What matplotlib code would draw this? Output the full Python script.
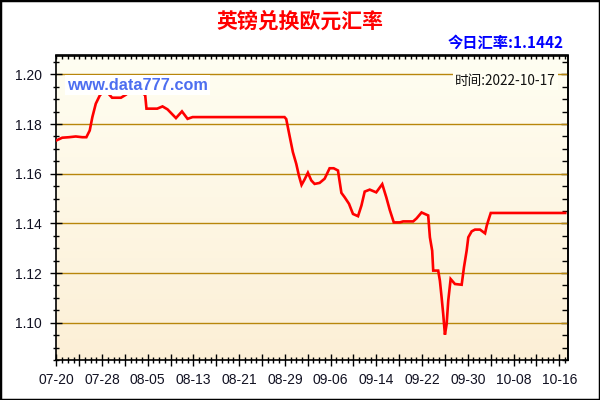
import numpy as np
import matplotlib
matplotlib.use("Agg")
import matplotlib.pyplot as plt
from matplotlib.ticker import FixedLocator, MultipleLocator, NullFormatter, FixedFormatter
from matplotlib.patches import Rectangle

# ---- data (days since 2022-07-20, GBP->EUR rate) ----
day_offset = [0, 1.03, 2.21, 3.39, 4.54, 5.25, 5.84, 6.3, 6.9, 7.6, 8.2, 8.9, 9.75, 11.3,
              12.16, 13.1, 14.5, 15.55, 15.77, 17.65, 18.58, 19.46, 20.93, 21.98, 22.96,
              23.84, 39.93, 40.23, 40.8, 41.39, 41.98, 42.44, 42.91, 43.44, 44.02, 44.61,
              45.19, 46.07, 46.95, 47.82, 48.53, 49.28, 49.88, 50.46, 51.21, 51.91, 52.79,
              53.39, 53.96, 54.84, 55.98, 57.03, 57.74, 58.35, 59.05, 60.11, 60.68, 62.44,
              63.03, 63.91, 64.49, 65.07, 65.37, 65.77, 65.95, 66.82, 67.12, 67.42, 67.7,
              68.0, 68.3, 68.58, 69.0, 69.75, 70.93, 71.33, 71.8, 72.09, 72.68, 73.26,
              74.14, 75.02, 75.32, 75.6, 76.02, 89.05]
rate = [1.1734, 1.1745, 1.1747, 1.1750, 1.1747, 1.1747, 1.1774, 1.1828, 1.1882, 1.1915,
        1.1930, 1.1928, 1.1906, 1.1906, 1.1918, 1.1935, 1.1940, 1.1915, 1.1862, 1.1862,
        1.1871, 1.1859, 1.1824, 1.1851, 1.1821, 1.1828, 1.1828, 1.1820, 1.1754, 1.1687,
        1.1640, 1.1593, 1.1555, 1.1577, 1.1604, 1.1573, 1.1559, 1.1563, 1.1580, 1.1622,
        1.1622, 1.1613, 1.1523, 1.1505, 1.1479, 1.1438, 1.1429, 1.1472, 1.1528, 1.1536,
        1.1525, 1.1558, 1.1505, 1.1454, 1.1404, 1.1404, 1.1408, 1.1408, 1.1420, 1.1444,
        1.1438, 1.1432, 1.1344, 1.1290, 1.1210, 1.1210, 1.1169, 1.1102, 1.1035, 1.0952,
        1.0995, 1.1089, 1.1176, 1.1156, 1.1153, 1.1223, 1.1290, 1.1344, 1.1368, 1.1375,
        1.1375, 1.1360, 1.1391, 1.1412, 1.1442, 1.1442]
tick_days = [0, 8, 16, 24, 32, 40, 48, 56, 64, 72, 80, 88]
tick_labels = ["07-20", "07-28", "08-05", "08-13", "08-21", "08-29",
               "09-06", "09-14", "09-22", "09-30", "10-08", "10-16"]
y_ticks = [1.10, 1.12, 1.14, 1.16, 1.18, 1.20]
title = "英镑兑换欧元汇率"
today_label = "今日汇率:1.1442"
time_label = "时间:2022-10-17"
watermark = "www.data777.com"

plt.rcParams['font.family'] = ['Liberation Sans', 'Noto Sans CJK SC', 'DejaVu Sans']

W, H = 600, 400
fig = plt.figure(figsize=(6, 4), dpi=100, facecolor='white')
L, R, T, B = 55.5, 567.5, 55.5, 360
ax = fig.add_axes([L / W, 1 - B / H, (R - L) / W, (B - T) / H])

# gradient background
top_c = np.array([255, 254, 242]) / 255
bot_c = np.array([252, 239, 214]) / 255
t = np.linspace(0, 1, 256)[:, None]
grad = (top_c[None, :] * (1 - t) + bot_c[None, :] * t)[:, None, :]
ax.imshow(grad, extent=[0, 1, 0, 1], transform=ax.transAxes, aspect='auto',
          zorder=0, interpolation='bilinear')

for yv in y_ticks:
    ax.axhline(yv, color='#B8860B', lw=1.0, zorder=1)

ax.plot(day_offset, rate, color='#FF0000', lw=1.9, zorder=3, solid_joinstyle='miter')

ax.set_xlim(-0.15, 89.45)
ax.set_ylim(1.085, 1.2076)

# axes ticks
ax.xaxis.set_major_locator(FixedLocator(np.arange(0, 90, 4)))
ax.xaxis.set_minor_locator(MultipleLocator(1))
lab_map = {d: l for d, l in zip(tick_days, tick_labels)}
ax.xaxis.set_major_formatter(FixedFormatter([lab_map.get(d, "") for d in range(0, 90, 4)]))
ax.yaxis.set_major_locator(FixedLocator(y_ticks))
ax.yaxis.set_minor_locator(MultipleLocator(0.005))
ax.yaxis.set_major_formatter(FixedFormatter([f"{v:.2f}" for v in y_ticks]))

ax.tick_params(axis='both', which='major', direction='inout', length=8, width=1,
               labelsize=10, labelcolor='#111122')
ax.tick_params(axis='both', which='minor', direction='inout', length=5, width=1)
ax.tick_params(axis='x', which='major', pad=5)
ax.tick_params(axis='y', which='major', pad=6)

secx = ax.secondary_xaxis('top')
secx.xaxis.set_major_locator(MultipleLocator(1))
secx.xaxis.set_major_formatter(NullFormatter())
secx.tick_params(direction='in', length=3, width=1)
secy = ax.secondary_yaxis('right')
secy.yaxis.set_major_locator(FixedLocator(y_ticks))
secy.yaxis.set_minor_locator(MultipleLocator(0.005))
secy.yaxis.set_major_formatter(NullFormatter())
secy.tick_params(which='major', direction='in', length=5, width=1)
secy.tick_params(which='minor', direction='in', length=4, width=1)

for sp in list(ax.spines.values()) + [secx.spines['top'], secy.spines['right']]:
    sp.set_linewidth(1.2)
    sp.set_color('black')

# watermark & time label
fig.text(67 / W, 1 - 85 / H, watermark, color='#4d6ef0', fontsize=11.7, fontweight='bold',
         family=['Liberation Sans'], va='center', ha='left', zorder=5,
         bbox=dict(facecolor='white', edgecolor='none', pad=1.5))
fig.text(556 / W, 1 - 81 / H, time_label, color='#111111', fontsize=9.8,
         family=['Noto Sans CJK SC', 'DejaVu Sans'], va='center', ha='right', zorder=5,
         bbox=dict(facecolor='#FFFEF2', edgecolor='none', pad=1.5))

fig.text(0.5, 1 - 21 / H, title, color='#FF0000', fontsize=15, fontweight='bold',
         family=['Noto Sans CJK SC'], ha='center', va='center')
fig.text(564 / W, 1 - 43 / H, today_label, color='#0000FF', fontsize=11, fontweight='bold',
         family=['Noto Sans CJK SC'], ha='right', va='center')

fig.add_artist(Rectangle((0, 0), 1, 1, transform=fig.transFigure, fill=False,
                         edgecolor='black', lw=2.5, zorder=10))

fig.savefig('out.png', dpi=100, facecolor='white')
